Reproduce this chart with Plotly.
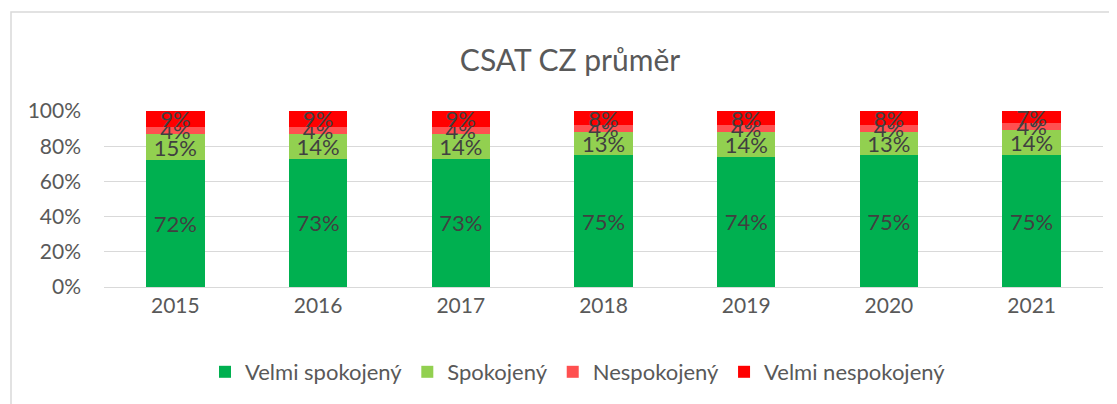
import plotly.graph_objects as go

years = ["2015", "2016", "2017", "2018", "2019", "2020", "2021"]
velmi_spokojeny = [72, 73, 73, 75, 74, 75, 75]
spokojeny = [15, 14, 14, 13, 14, 13, 14]
nespokojeny = [4, 4, 4, 4, 4, 4, 4]
velmi_nespokojeny = [9, 9, 9, 8, 8, 8, 7]

series = [
    ("Velmi spokojený", velmi_spokojeny, "#00B050"),
    ("Spokojený", spokojeny, "#92D050"),
    ("Nespokojený", nespokojeny, "#FF5050"),
    ("Velmi nespokojený", velmi_nespokojeny, "#FF0000"),
]

FONT = "Lato, 'Open Sans', sans-serif"
OFF = 8  # page body margin
W, H = 1117 - OFF, 404 - OFF
L, R, T, B = 104 - OFF, 1103 - OFF, 111 - OFF, 287 - OFF
PW, PH = R - L, B - T

fig = go.Figure()
for name, vals, col in series:
    fig.add_trace(go.Bar(
        x=years, y=[v / 100 for v in vals], name=name,
        marker=dict(color=col, line=dict(width=0)),
        text=[f"{v}%" for v in vals],
        textposition="inside", insidetextanchor="middle",
        textangle=0, constraintext="none",
        textfont=dict(family=FONT, size=22, color="#404040"),
    ))

fig.update_layout(
    barmode="stack",
    bargap=0.59,
    width=W, height=H,
    margin=dict(l=L, r=W - R, t=T, b=H - B, pad=0),
    paper_bgcolor="white", plot_bgcolor="white",
    uniformtext=dict(minsize=22, mode="show"),
    title=dict(text="CSAT CZ průměr", x=(570 - OFF) / W, xref="container", xanchor="center",
               y=1 - (60 - OFF) / H, yref="container", yanchor="middle",
               font=dict(family=FONT, size=30, color="#595959")),
    font=dict(family=FONT, color="#595959"),
    legend=dict(orientation="h", x=(578 - OFF) / W, xref="container", xanchor="center",
                y=1 - (372 - OFF) / H, yref="container", yanchor="middle",
                font=dict(family=FONT, size=22, color="#595959"),
                itemwidth=30, traceorder="normal"),
    xaxis=dict(tickfont=dict(family=FONT, size=21, color="#595959"),
               showline=True, linecolor="#D9D9D9", linewidth=1, ticks="", ticklen=0),
    yaxis=dict(range=[0, 1], dtick=0.2, tickformat=".0%",
               tickfont=dict(family=FONT, size=21, color="#595959"),
               showgrid=True, gridcolor="#D9D9D9", gridwidth=1, zeroline=False,
               ticks="", ticklabelstandoff=22),
    shapes=[dict(type="rect", xref="paper", yref="paper",
                 x0=(11 - 104) / PW, x1=(1130 - 104) / PW,
                 y0=(287 - 420) / PH, y1=(287 - 12) / PH,
                 line=dict(color="#D9D9D9", width=1.5), layer="below")],
)

fig.write_html("out.html")
